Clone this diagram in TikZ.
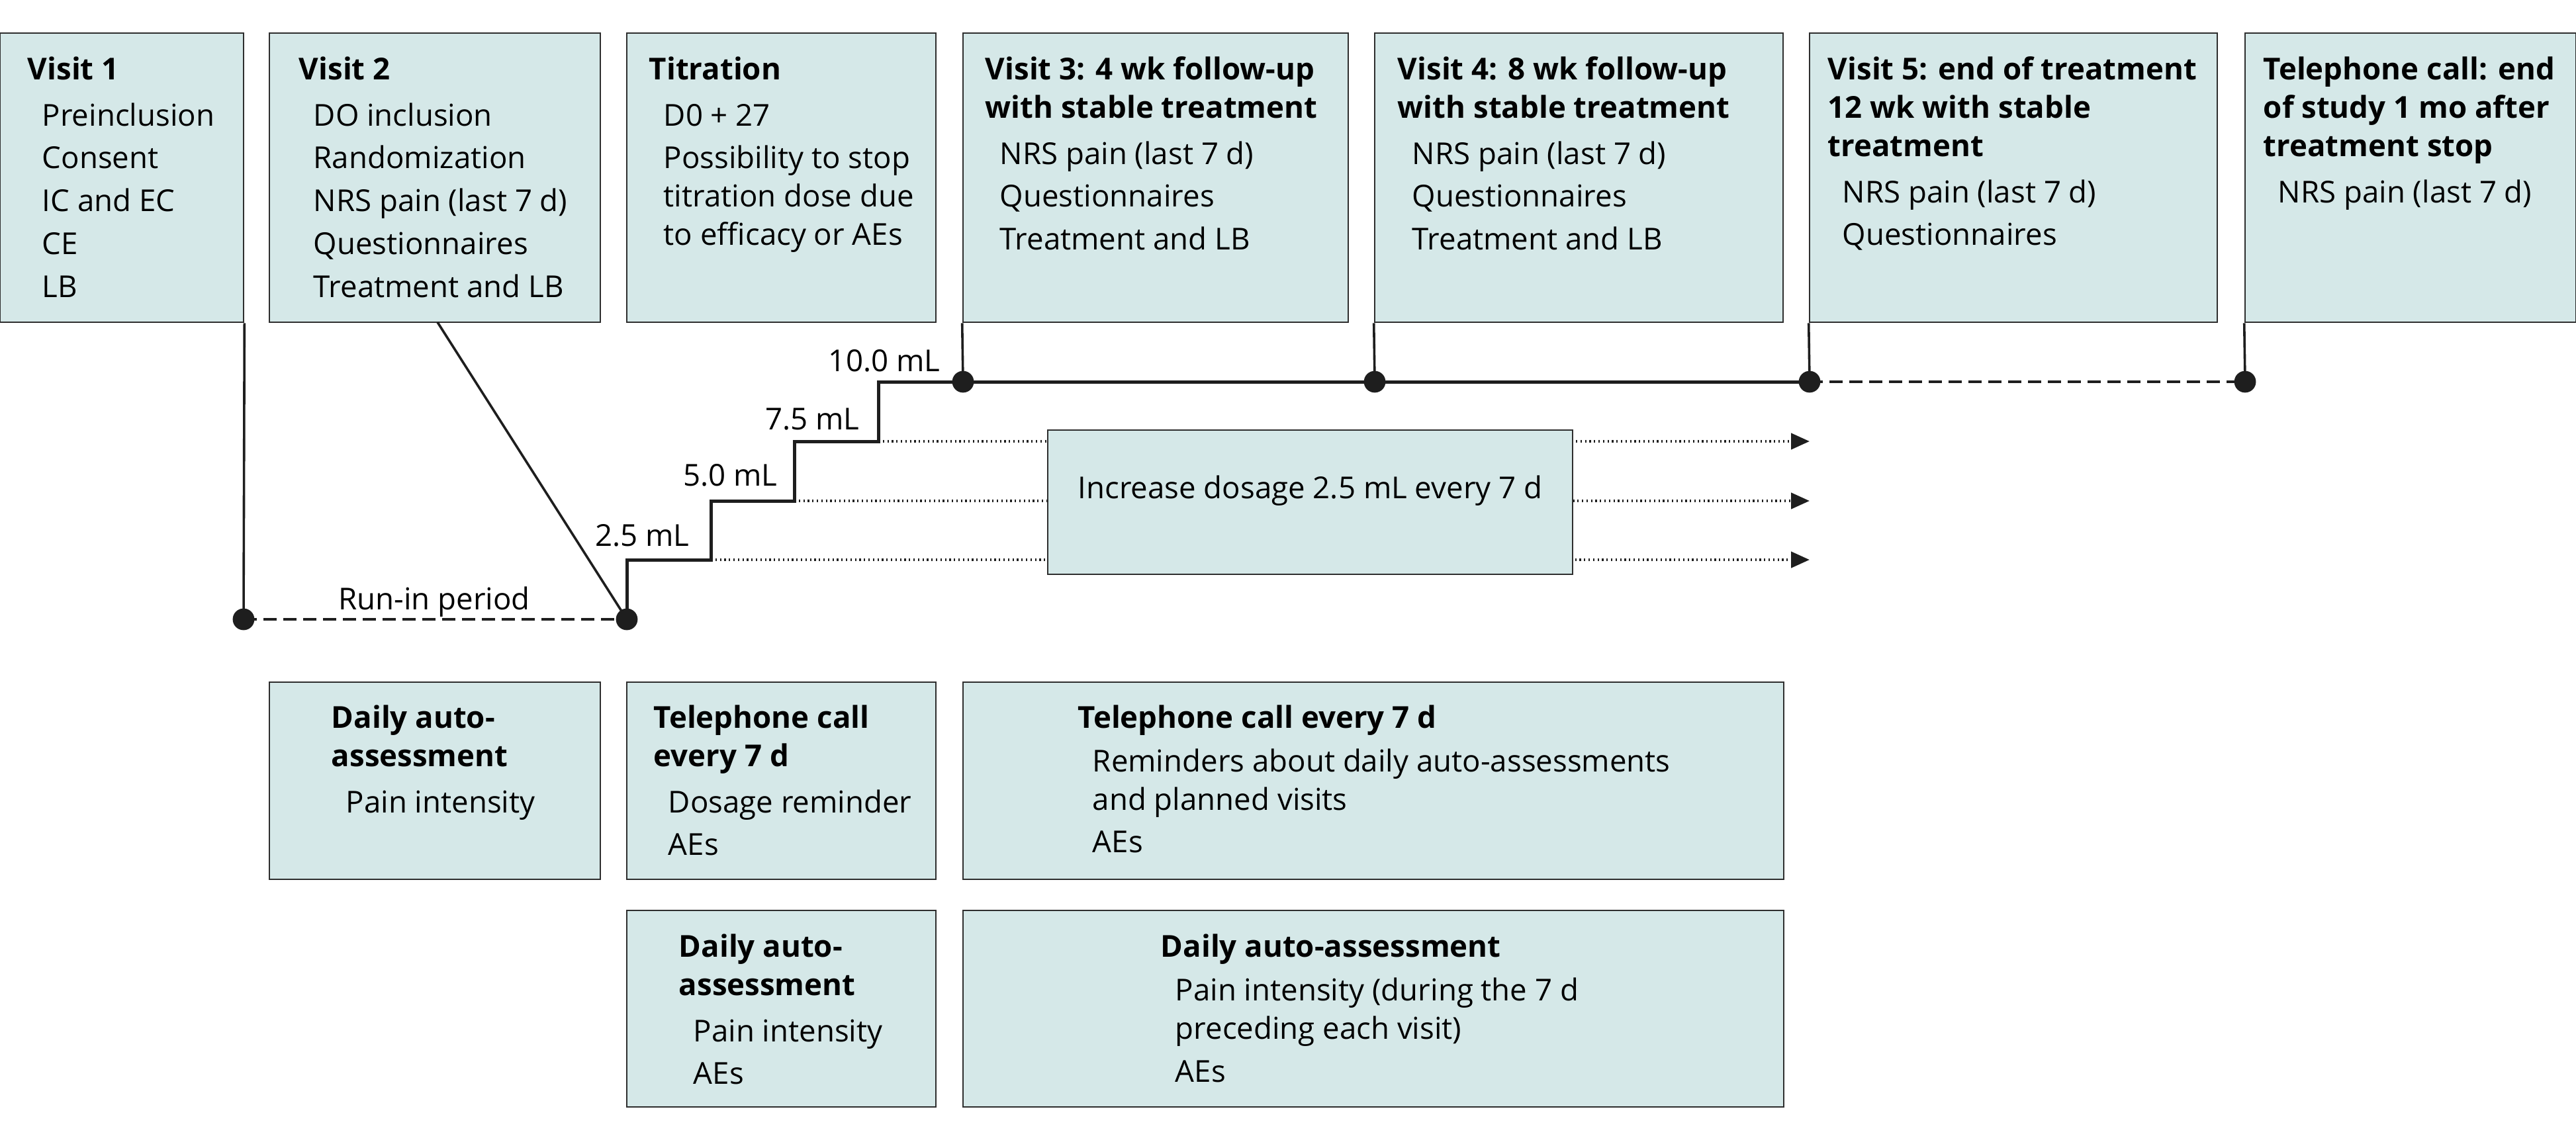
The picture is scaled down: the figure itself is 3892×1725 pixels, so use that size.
\documentclass[tikz,border=0pt]{standalone}
\usepackage{fontspec}
\setmainfont{Open Sans}
\usetikzlibrary{arrows.meta,fit}
\definecolor{boxfill}{HTML}{D5E8E8}
\definecolor{edgegray}{HTML}{2E2E2E}
\definecolor{ink}{HTML}{1E1E1E}
\newcommand\ind{\hspace*{5.5pt}}
\newcommand\nx{\\[1.7pt]}
\newcommand\tx{\\[3pt]}
\begin{document}
\begin{tikzpicture}[x=0.25pt,y=-0.25pt,
  box/.style={draw=edgegray, fill=boxfill, line width=0.65pt, inner sep=0pt},
  txt/.style={anchor=base west, inner sep=0pt, font=\fontsize{11.4}{14.5}\selectfont},
  lbl/.style={inner sep=0pt, font=\fontsize{11.4}{14.5}\selectfont},
  dot/.style={circle, fill=ink, inner sep=0pt, minimum size=8.2pt},
  conn/.style={draw=ink, line width=0.9pt},
  tline/.style={draw=ink, line width=1.25pt},
  dashline/.style={draw=ink, line width=1.1pt, dash pattern=on 5pt off 2.5pt},
  dotarr/.style={draw=ink, line width=1.1pt, dash pattern=on 0.55pt off 1.15pt, -{Triangle[length=7pt,width=6pt]}}
]
\useasboundingbox (0,0) rectangle (3892,1725);

% top boxes
\node[box, fit={(0,50) (368,487)}] (v1) {};
\node[box, fit={(407,50) (907,487)}] (v2) {};
\node[box, fit={(947,50) (1414,487)}] (tit) {};
\node[box, fit={(1455,50) (2037,487)}] (v3) {};
\node[box, fit={(2077,50) (2694,487)}] (v4) {};
\node[box, fit={(2734,50) (3350,487)}] (v5) {};
\node[box, fit={(3392,50) (3892,487)}] (tel) {};

% texts of top boxes
\node[txt] (v1t) at (41,120) {\begin{tabular}[t]{@{}l@{}}\textbf{Visit 1}\tx
\ind Preinclusion\nx \ind Consent\nx \ind IC and EC\nx \ind CE\nx \ind LB\end{tabular}};
\node[txt] (v2t) at (451,120) {\begin{tabular}[t]{@{}l@{}}\textbf{Visit 2}\tx
\ind DO inclusion\nx \ind Randomization\nx \ind NRS pain (last 7 d)\nx \ind Questionnaires\nx \ind Treatment and LB\end{tabular}};
\node[txt] (titt) at (980,120) {\begin{tabular}[t]{@{}l@{}}\textbf{Titration}\tx
\ind D0 + 27\nx \ind Possibility to stop\\ \ind titration dose due\\ \ind to efficacy or AEs\end{tabular}};
\node[txt] (v3t) at (1488,120) {\begin{tabular}[t]{@{}l@{}}\textbf{Visit 3: 4 wk follow-up}\\ \textbf{with stable treatment}\tx
\ind NRS pain (last 7 d)\nx \ind Questionnaires\nx \ind Treatment and LB\end{tabular}};
\node[txt] (v4t) at (2111,120) {\begin{tabular}[t]{@{}l@{}}\textbf{Visit 4: 8 wk follow-up}\\ \textbf{with stable treatment}\tx
\ind NRS pain (last 7 d)\nx \ind Questionnaires\nx \ind Treatment and LB\end{tabular}};
\node[txt] (v5t) at (2761,120) {\begin{tabular}[t]{@{}l@{}}\textbf{Visit 5: end of treatment}\\ \textbf{12 wk with stable}\\ \textbf{treatment}\tx
\ind NRS pain (last 7 d)\nx \ind Questionnaires\end{tabular}};
\node[txt] (telt) at (3419,120) {\begin{tabular}[t]{@{}l@{}}\textbf{Telephone call: end}\\ \textbf{of study 1 mo after}\\ \textbf{treatment stop}\tx
\ind NRS pain (last 7 d)\end{tabular}};

% dots
\node[dot] (d1) at (368,936) {};
\node[dot] (d2) at (947,936) {};
\node[dot] (t3) at (1455,577) {};
\node[dot] (t4) at (2077,577) {};
\node[dot] (t5) at (2734,577) {};
\node[dot] (t6) at (3392,577) {};

\coordinate (v2b) at (661,487);
\coordinate (s1) at (1074,846);
\coordinate (s2) at (1200,757);
\coordinate (s3) at (1327,667);

% connectors
\draw[conn] (v1.south east) -- (d1.center);
\draw[conn] (v2b) -- (d2.center);
\draw[conn] (v3.south west) -- (t3.center);
\draw[conn] (v4.south west) -- (t4.center);
\draw[conn] (v5.south west) -- (t5.center);
\draw[conn] (tel.south west) -- (t6.center);
\draw[dashline] (d1.center) -- (d2.center);
\draw[tline] (d2.center) |- (s1) |- (s2) |- (s3) |- (t3.center) -- (t4.center) -- (t5.center);
\draw[dashline] (t5.center) -- (t6.center);

% dotted arrows
\draw[dotarr] (s1) -- (s1 -| t5);
\draw[dotarr] (s2) -- (s2 -| t5);
\draw[dotarr] (s3) -- (s3 -| t5);
\node[box, lbl, fit={(1583,650) (2376,868)}] (inc) {Increase dosage 2.5 mL every 7 d};

% labels
\node[lbl, anchor=base] (run) at (656,921) {Run-in period};
\node[lbl, anchor=base east] (m1) at (1042,825) {2.5 mL};
\node[lbl, anchor=base east] (m2) at (1175,734) {5.0 mL};
\node[lbl, anchor=base east] (m3) at (1299,649) {7.5 mL};
\node[lbl, anchor=base east] (m4) at (1421,561) {10.0 mL};

% bottom boxes
\node[box, fit={(407,1031) (907,1329)}] (da1) {};
\node[box, fit={(947,1031) (1414,1329)}] (tc1) {};
\node[box, fit={(1455,1031) (2695,1329)}] (tc2) {};
\node[box, fit={(947,1376) (1414,1673)}] (da2) {};
\node[box, fit={(1455,1376) (2695,1673)}] (da3) {};

\node[txt] (da1t) at (500,1100) {\begin{tabular}[t]{@{}l@{}}\textbf{Daily auto-}\\ \textbf{assessment}\tx
\ind Pain intensity\end{tabular}};
\node[txt] (tc1t) at (987,1100) {\begin{tabular}[t]{@{}l@{}}\textbf{Telephone call}\\ \textbf{every 7 d}\tx
\ind Dosage reminder\nx \ind AEs\end{tabular}};
\node[txt] (tc2t) at (1628,1100) {\begin{tabular}[t]{@{}l@{}}\textbf{Telephone call every 7 d}\\[2pt]
\ind Reminders about daily auto-assessments\\ \ind and planned visits\\[1.5pt] \ind AEs\end{tabular}};
\node[txt] (da2t) at (1025,1446) {\begin{tabular}[t]{@{}l@{}}\textbf{Daily auto-}\\ \textbf{assessment}\tx
\ind Pain intensity\nx \ind AEs\end{tabular}};
\node[txt] (da3t) at (1753,1446) {\begin{tabular}[t]{@{}l@{}}\textbf{Daily auto-assessment}\\[2.2pt]
\ind Pain intensity (during the 7 d\\ \ind preceding each visit)\nx \ind AEs\end{tabular}};
\end{tikzpicture}
\end{document}
